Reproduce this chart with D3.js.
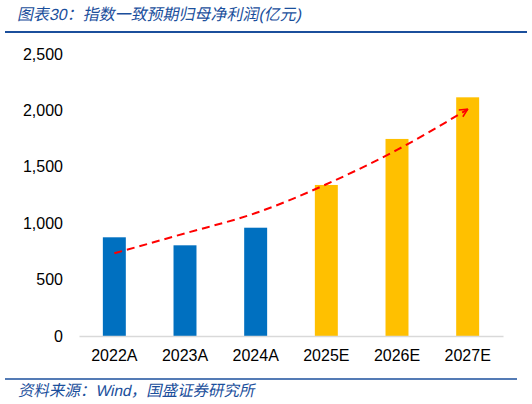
<!DOCTYPE html>
<html>
<head>
<meta charset="utf-8">
<script src="https://cdn.jsdelivr.net/npm/d3@7"></script>
<style>
  body { margin: 0; background: #fff; }
  svg { display: block; }
</style>
</head>
<body>
<div id="chart-area"></div>
<script>
const categories = ["2022A", "2023A", "2024A", "2025E", "2026E", "2027E"];
const profitValues = [875, 804, 960, 1339, 1747, 2116];
const isForecast = [false, false, false, true, true, true];
const trendValues = [733, 910, 1090, 1345, 1650, 2010];
const yTicks = [0, 500, 1000, 1500, 2000, 2500];

const svgWidth = 532;
const svgHeight = 404;
const blue = "#0070C0";
const gold = "#FFC000";
const titleBlue = "#1B4F9C";
const font = "'Liberation Sans', Arial, sans-serif";
const cjkFont = "'Liberation Sans', 'Noto Sans CJK SC', sans-serif";

const svg = d3.select("#chart-area")
    .append("svg")
    .attr("width", svgWidth)
    .attr("height", svgHeight);

// title + rule (CJK font has no italic, so slant it by hand)
svg.append("text")
    .attr("transform", "translate(17,20) skewX(-12)")
    .attr("fill", titleBlue)
    .style("font-family", cjkFont)
    .style("font-size", "16px")
    .text("图表30：指数一致预期归母净利润(亿元)");

svg.append("line")
    .attr("x1", 5).attr("x2", 527)
    .attr("y1", 32).attr("y2", 32)
    .attr("stroke", titleBlue)
    .attr("stroke-width", 2);

const xScale = d3.scaleBand()
    .domain(categories)
    .range([79, 503])
    .paddingInner(0.675)
    .paddingOuter(0.3375);

const yScale = d3.scaleLinear()
    .domain([0, 2500])
    .range([336, 54]);

// y axis labels (no line)
const yAxis = svg.append("g")
    .attr("transform", "translate(79,0)")
    .call(d3.axisLeft(yScale).tickValues(yTicks).tickSize(0).tickPadding(16).tickFormat(d3.format(",")));
yAxis.select(".domain").remove();
yAxis.selectAll("text")
    .attr("fill", "#000")
    .style("font-family", font)
    .style("font-size", "16px");

// bars
svg.selectAll(".bar")
    .data(categories)
    .join("rect")
    .attr("class", "bar")
    .attr("x", d => xScale(d))
    .attr("y", (d, i) => yScale(profitValues[i]))
    .attr("width", xScale.bandwidth())
    .attr("height", (d, i) => yScale(0) - yScale(profitValues[i]))
    .attr("fill", (d, i) => isForecast[i] ? gold : blue);

// x axis
const xAxis = svg.append("g")
    .attr("transform", `translate(0,${yScale(0)})`)
    .call(d3.axisBottom(xScale).tickSize(0).tickPadding(14).tickSizeOuter(0));
xAxis.select(".domain").attr("stroke", "#D9D9D9").attr("stroke-width", 1.5);
xAxis.selectAll("text")
    .attr("fill", "#000")
    .style("font-family", font)
    .style("font-size", "16px");

// trend arrow
svg.append("defs")
    .append("marker")
    .attr("id", "arrow")
    .attr("viewBox", "0 0 10 10")
    .attr("refX", 9)
    .attr("refY", 5)
    .attr("markerWidth", 5)
    .attr("markerHeight", 5)
    .attr("markerUnits", "strokeWidth")
    .attr("orient", "auto")
    .append("path")
    .attr("d", "M1,1 L9,5 L1,9")
    .attr("fill", "none")
    .attr("stroke", "#FF0000")
    .attr("stroke-width", 1.6);

const trendLine = d3.line()
    .x((d, i) => xScale(categories[i]) + xScale.bandwidth() / 2)
    .y(d => yScale(d))
    .curve(d3.curveMonotoneX);

svg.append("path")
    .datum(trendValues)
    .attr("d", trendLine)
    .attr("fill", "none")
    .attr("stroke", "#FF0000")
    .attr("stroke-width", 2)
    .attr("stroke-dasharray", "8,5")
    .attr("marker-end", "url(#arrow)");

// footer
svg.append("line")
    .attr("x1", 5).attr("x2", 517)
    .attr("y1", 379).attr("y2", 379)
    .attr("stroke", titleBlue)
    .attr("stroke-width", 1.5);

svg.append("text")
    .attr("transform", "translate(18,396) skewX(-12)")
    .attr("fill", titleBlue)
    .style("font-family", cjkFont)
    .style("font-size", "15.5px")
    .text("资料来源：Wind，国盛证券研究所");
</script>
</body>
</html>
